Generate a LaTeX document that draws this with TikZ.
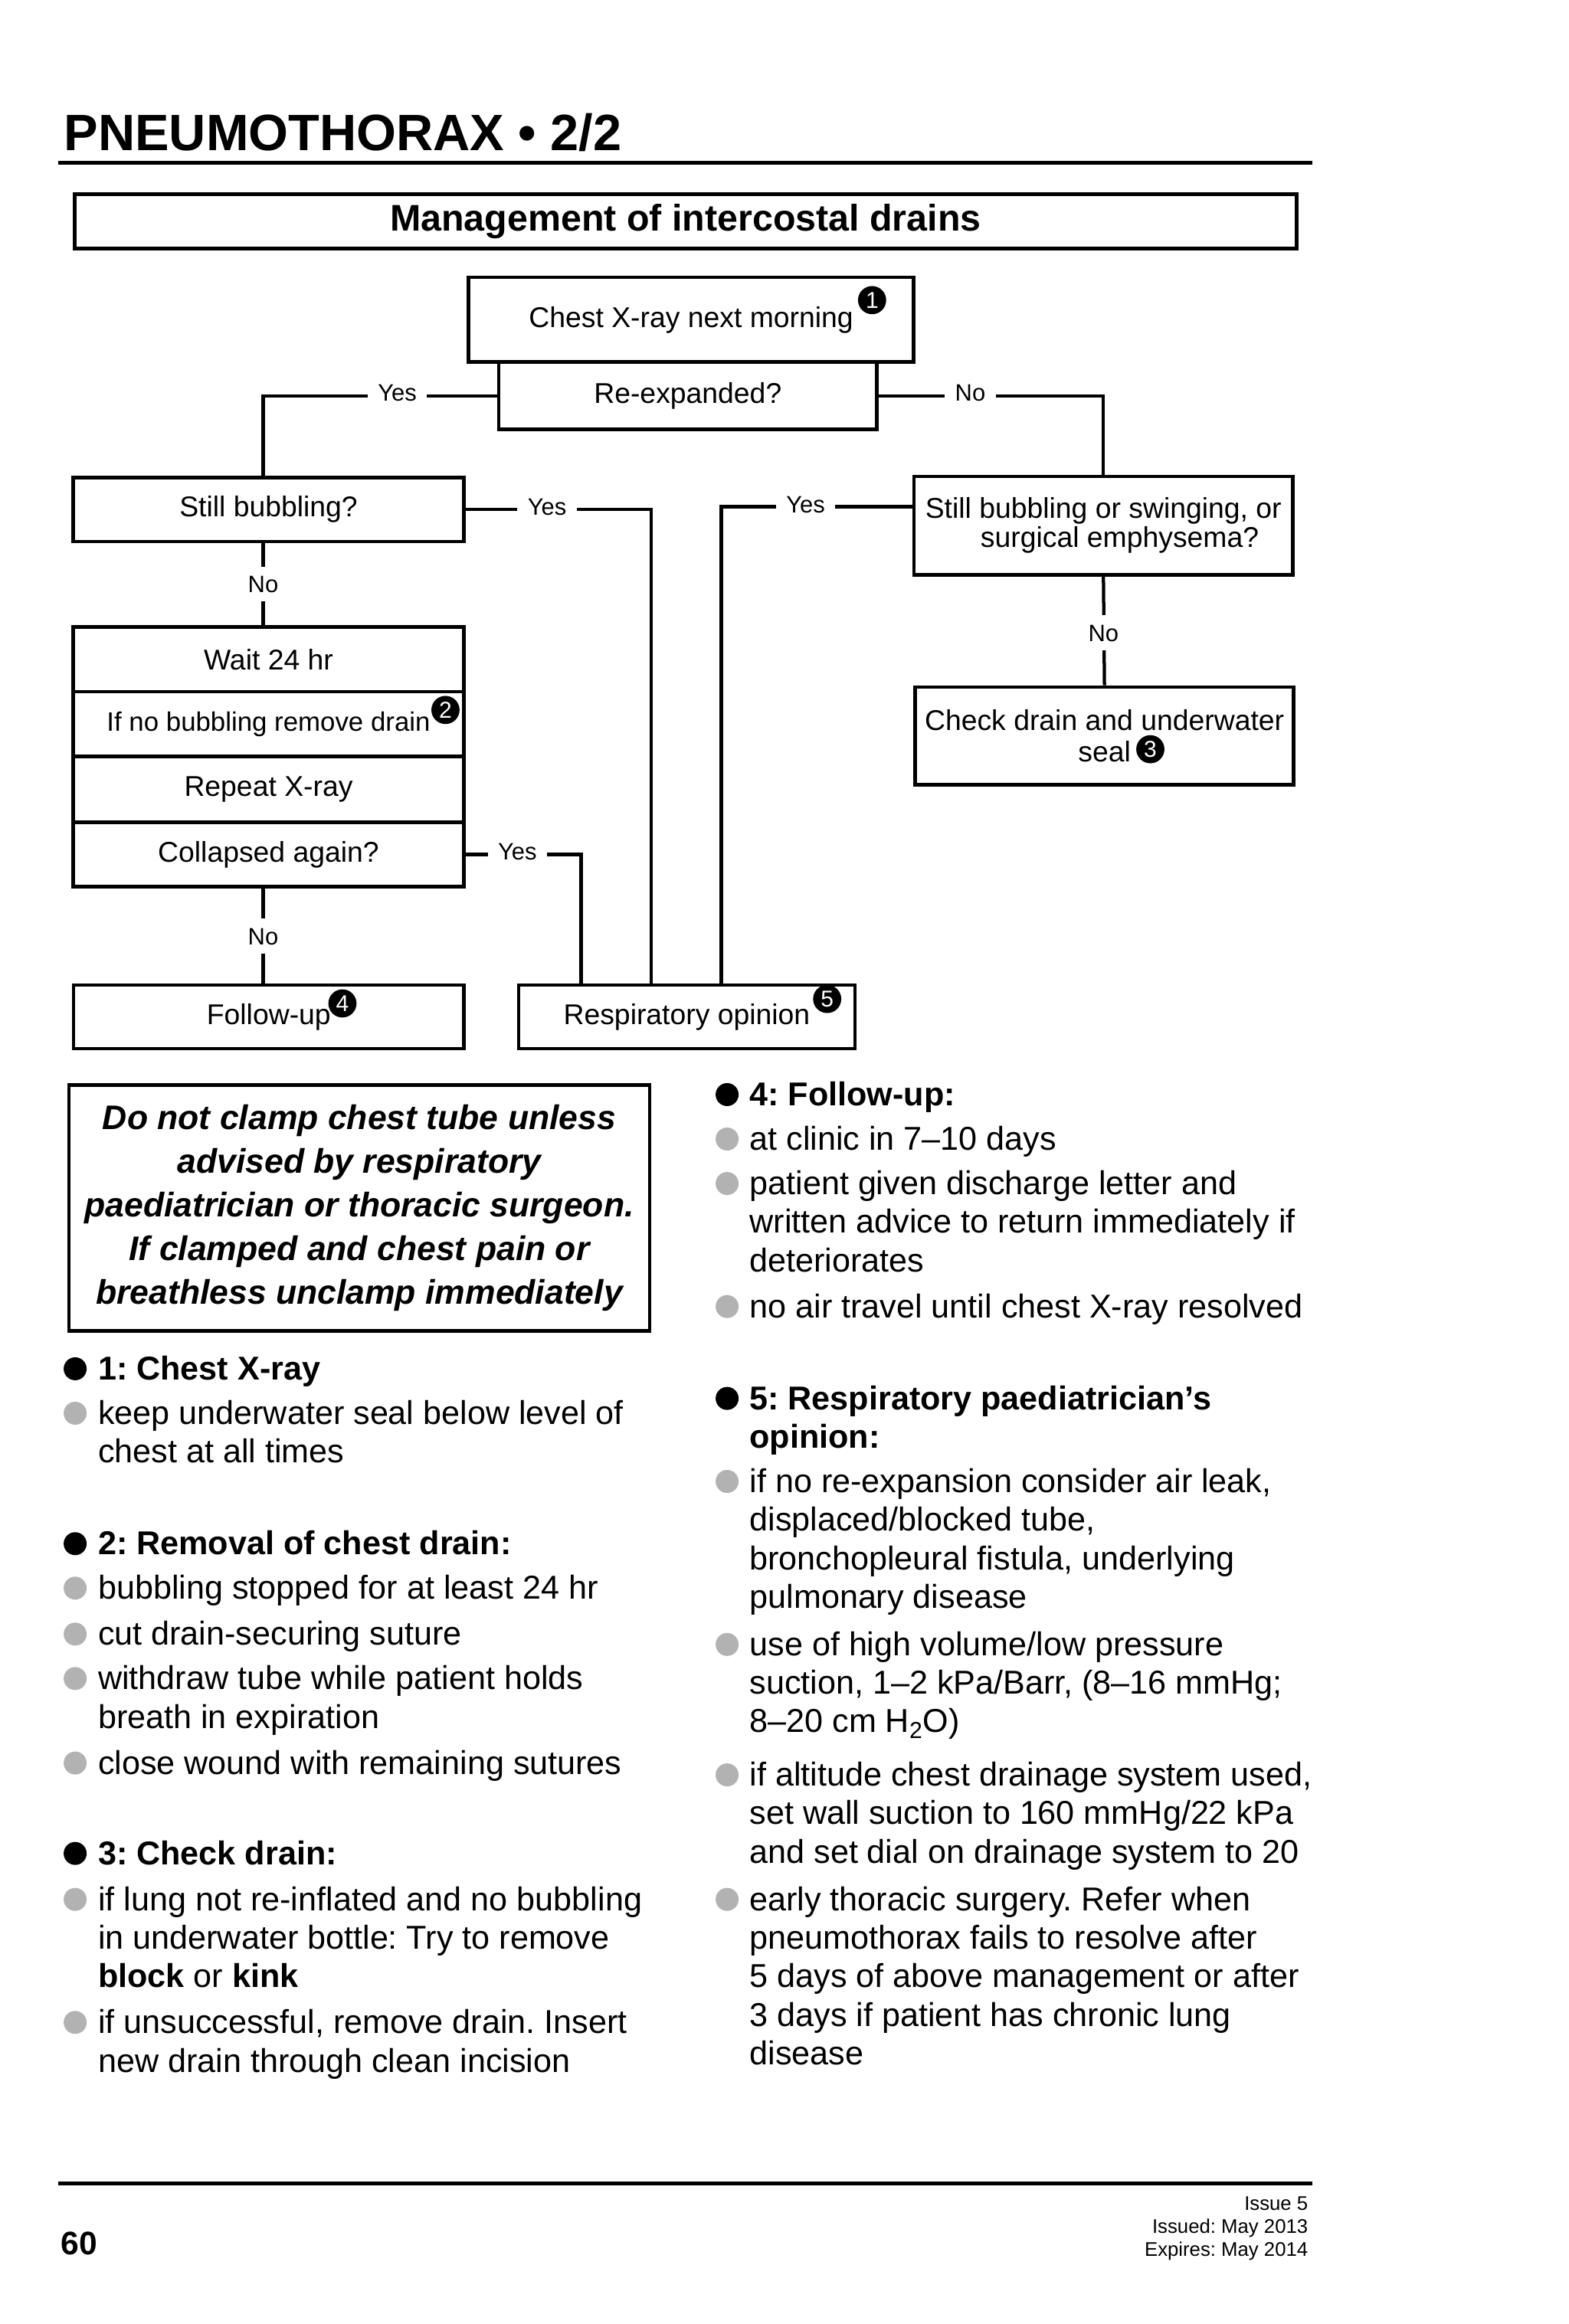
\documentclass[tikz,border=0pt]{standalone}
\usepackage{fontspec}
\setmainfont{Liberation Sans}
\usetikzlibrary{calc}
\definecolor{bulgray}{RGB}{178,178,178}
\newcommand\fsz[2]{\fontsize{#1pt}{#2pt}\selectfont}
\frenchspacing
\begin{document}
\begin{tikzpicture}[x=1pt,y=-1pt,
  box/.style={draw,line width=2.4pt,inner sep=0pt,font=\fsz{19.3}{23},align=center},
  conn/.style={line width=2.2pt},
  lab/.style={fill=white,font=\fsz{16}{19},inner xsep=7pt,inner ysep=6pt,text height=11.5pt,text depth=0pt},
  badge/.style={circle,fill=black,text=white,inner sep=0pt,minimum size=19pt,font=\fsz{15.5}{17}},
  txt/.style={anchor=base west,inner sep=0pt,font=\fsz{22.3}{26}},
  hd/.style={anchor=base west,inner sep=0pt,font=\bfseries\fsz{22.3}{26}},
  bk/.style={circle,fill=black,inner sep=0pt,minimum size=15.5pt},
  gb/.style={circle,fill=bulgray,inner sep=0pt,minimum size=15.5pt},
  rule/.style={line width=3pt},
]
\fill[white] (0,0) rectangle (1058.4,1568);
\useasboundingbox (0,0) rectangle (1058.4,1568);

% title and rule
\node[anchor=base west,inner sep=0pt,font=\bfseries\fsz{34.5}{40}] (title) at (43,101.7) {PNEUMOTHORAX • 2/2};
\coordinate (r1a) at (39.3,109.8);
\coordinate (r1b) at (885.5,109.8);
\draw[rule] (r1a) -- (r1b);

% header
\node[box,line width=2.6pt,minimum width=824.7pt,minimum height=36.5pt,font=\bfseries\fsz{25}{30}] (hdr) at (462.5,149.5) {Management of intercostal drains};

% flowchart boxes
\node[box,minimum width=300.2pt,minimum height=57.2pt] (cxr) at (466.2,215.7) {Chest X-ray next morning};
\node[box,minimum width=255pt,minimum height=45.4pt] (reexp) at (464,267) {Re-expanded?};
\node[box,minimum width=263.5pt,minimum height=43.2pt] (sb) at (181.15,343.7) {Still bubbling?};
\node[box,minimum width=255.7pt,minimum height=66.3pt,font=\fsz{19.3}{19.5}] (sbr) at (744.35,354.55) {Still bubbling or swinging, or\\\hspace*{22pt}surgical emphysema?};
\node[box,minimum width=263.5pt,minimum height=43.5pt] (wait) at (181.15,444.85) {Wait 24 hr};
\node[box,minimum width=263.5pt,minimum height=43.9pt,font=\fsz{18}{22}] (ifno) at (181.15,488.55) {If no bubbling remove drain};
\node[box,minimum width=263.5pt,minimum height=44.3pt] (rep) at (181.15,532.65) {Repeat X-ray};
\node[box,minimum width=263.5pt,minimum height=43.4pt] (coll) at (181.15,576.5) {Collapsed again?};
\node[box,minimum width=255.3pt,minimum height=65.8pt,font=\fsz{19.3}{21.5}] (chk) at (745.05,496.5) {Check drain and underwater\\seal};
\node[box,minimum width=263.2pt,minimum height=42.9pt] (fu) at (181.3,686.05) {Follow-up};
\node[box,minimum width=227pt,minimum height=42.9pt] (resp) at (463.3,686.05) {Respiratory opinion};

% badges
\node[badge] (b1) at (588.3,202.5) {1};
\node[badge] (b2) at (300.5,479) {2};
\node[badge] (b3) at (776,505.5) {3};
\node[badge] (b4) at (231,677) {4};
\node[badge] (b5) at (558,674) {5};

% connectors
\coordinate (cl) at (177.5,0);
\coordinate (j1) at (392,0);
\coordinate (j2) at (439.4,0);
\coordinate (j3) at (486.6,0);
\draw[conn] (reexp.west) -| (cl |- sb.north);
\draw[conn] (reexp.east) -| (sbr.north);
\draw[conn] (sb.east) -| (j2 |- resp.north);
\draw[conn] ($(sbr.west)+(0,-12.7)$) -| (j3 |- resp.north);
\draw[conn] (cl |- sb.south) -- (cl |- wait.north);
\draw[conn] (sbr.south) -- (chk.north);
\draw[conn] (coll.east) -| (j1 |- resp.north);
\draw[conn] (cl |- coll.south) -- (cl |- fu.north);

% connector labels
\node[lab] (ly1) at (268,265) {Yes};
\node[lab] (ln1) at (654.5,265) {No};
\node[lab] (ly2) at (369,341.7) {Yes};
\node[lab] (ly3) at (543.5,340) {Yes};
\node[lab] (ln2) at (177.5,394) {No};
\node[lab] (ln3) at (744.35,427) {No};
\node[lab] (ly4) at (349,574.5) {Yes};
\node[lab] (ln4) at (177.5,631.5) {No};

% warning box
\node[box,line width=2.2pt,minimum width=391.4pt,minimum height=165.9pt,font=\bfseries\itshape\fsz{23}{29.5}] (warn) at (242.4,814.95) {Do not clamp chest tube unless\\advised by respiratory\\paediatrician or thoracic surgeon.\\If clamped and chest pain or\\breathless unclamp immediately};

% left column
\node[bk] (p1) at (50.7,923.5) {};
\node[hd] (h1) at (66,931) {1: Chest X-ray};
\node[gb] (q1a) at (50.7,953.5) {};
\node[txt] (t1a) at (66,961) {keep underwater seal below level of};
\node[txt] (t1b) at (66,987) {chest at all times};

\node[bk] (p2) at (50.7,1041.5) {};
\node[hd] (h2) at (66,1049) {2: Removal of chest drain:};
\node[gb] (q2a) at (50.7,1071.5) {};
\node[txt] (t2a) at (66,1079) {bubbling stopped for at least 24 hr};
\node[gb] (q2b) at (50.7,1102.5) {};
\node[txt] (t2b) at (66,1110) {cut drain-securing suture};
\node[gb] (q2c) at (50.7,1132.5) {};
\node[txt] (t2c) at (66,1140) {withdraw tube while patient holds};
\node[txt] (t2d) at (66,1166) {breath in expiration};
\node[gb] (q2e) at (50.7,1189.5) {};
\node[txt] (t2e) at (66,1197) {close wound with remaining sutures};

\node[bk] (p3) at (50.7,1250.5) {};
\node[hd] (h3) at (66,1258) {3: Check drain:};
\node[gb] (q3a) at (50.7,1281.5) {};
\node[txt] (t3a) at (66,1289) {if lung not re-inflated and no bubbling};
\node[txt] (t3b) at (66,1315) {in underwater bottle: Try to remove};
\node[txt] (t3c) at (66,1341) {\textbf{block} or \textbf{kink}};
\node[gb] (q3d) at (50.7,1364.5) {};
\node[txt] (t3d) at (66,1372) {if unsuccessful, remove drain. Insert};
\node[txt] (t3e) at (66,1398) {new drain through clean incision};

% right column
\node[bk] (p4) at (490.5,738.5) {};
\node[hd] (h4) at (505.5,746) {4: Follow-up:};
\node[gb] (q4a) at (490.5,768.5) {};
\node[txt] (t4a) at (505.5,776) {at clinic in 7–10 days};
\node[gb] (q4b) at (490.5,798.5) {};
\node[txt] (t4b) at (505.5,806) {patient given discharge letter and};
\node[txt] (t4c) at (505.5,832) {written advice to return immediately if};
\node[txt] (t4d) at (505.5,858) {deteriorates};
\node[gb] (q4e) at (490.5,881.5) {};
\node[txt] (t4e) at (505.5,889) {no air travel until chest X-ray resolved};

\node[bk] (p5) at (490.5,943.5) {};
\node[hd] (h5) at (505.5,951) {5: Respiratory paediatrician’s};
\node[hd] (h5b) at (505.5,977) {opinion:};
\node[gb] (q5a) at (490.5,999.5) {};
\node[txt] (t5a) at (505.5,1007) {if no re-expansion consider air leak,};
\node[txt] (t5b) at (505.5,1033) {displaced/blocked tube,};
\node[txt] (t5c) at (505.5,1059) {bronchopleural fistula, underlying};
\node[txt] (t5d) at (505.5,1085) {pulmonary disease};
\node[gb] (q5e) at (490.5,1109.5) {};
\node[txt] (t5e) at (505.5,1117) {use of high volume/low pressure};
\node[txt] (t5f) at (505.5,1143) {suction, 1–2 kPa/Barr, (8–16 mmHg;};
\node[txt] (t5g) at (505.5,1169) {8–20 cm H\textsubscript{2}O)};
\node[gb] (q5h) at (490.5,1197.5) {};
\node[txt] (t5h) at (505.5,1205) {if altitude chest drainage system used,};
\node[txt] (t5i) at (505.5,1231) {set wall suction to 160 mmHg/22 kPa};
\node[txt] (t5j) at (505.5,1257) {and set dial on drainage system to 20};
\node[gb] (q5k) at (490.5,1281.5) {};
\node[txt] (t5k) at (505.5,1289) {early thoracic surgery. Refer when};
\node[txt] (t5l) at (505.5,1315) {pneumothorax fails to resolve after};
\node[txt] (t5m) at (505.5,1341) {5 days of above management or after};
\node[txt] (t5n) at (505.5,1367) {3 days if patient has chronic lung};
\node[txt] (t5o) at (505.5,1393) {disease};

% footer
\coordinate (r2a) at (39.3,1473.3);
\coordinate (r2b) at (885.5,1473.3);
\draw[rule,line width=2.7pt] (r2a) -- (r2b);
\node[anchor=base west,inner sep=0pt,font=\bfseries\fsz{22}{26}] (pg) at (41,1521) {60};
\node[anchor=base east,inner sep=0pt,font=\fsz{13.3}{15.5}] (iss1) at (882.5,1491) {Issue 5};
\node[anchor=base east,inner sep=0pt,font=\fsz{13.3}{15.5}] (iss2) at (882.5,1506.5) {Issued: May 2013};
\node[anchor=base east,inner sep=0pt,font=\fsz{13.3}{15.5}] (iss3) at (882.5,1522) {Expires: May 2014};
\end{tikzpicture}
\end{document}
